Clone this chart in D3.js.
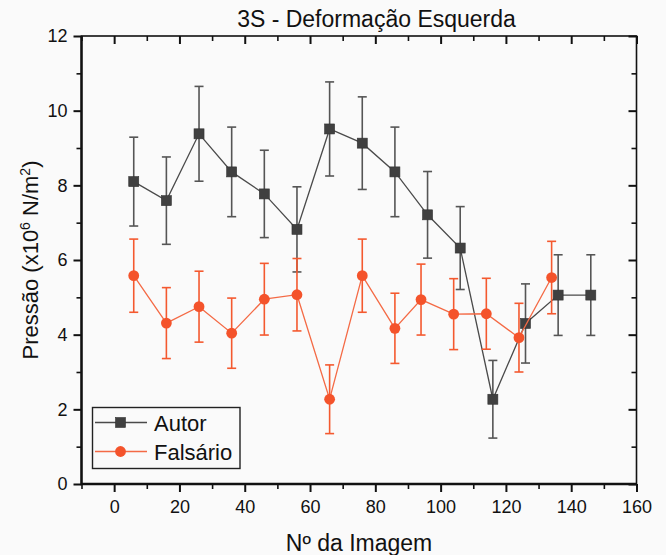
<!DOCTYPE html>
<html>
<head>
<meta charset="utf-8">
<script src="https://cdn.jsdelivr.net/npm/d3@7"></script>
<style>
  html, body { margin: 0; padding: 0; background: #fafafa; }
  text { font-family: Arial, "Liberation Sans", sans-serif; fill: #111; }
  .axis path, .axis line { stroke: #111; }
</style>
</head>
<body>
<div id="chart"></div>
<script>
const width = 666;
const height = 555;

//-----------------------------DATA-----------------------------//
const autorX = [6, 16, 26, 36, 46, 56, 66, 76, 86, 96, 106, 116, 126, 136, 146];
const autorY = [8.10, 7.59, 9.38, 8.36, 7.77, 6.82, 9.51, 9.13, 8.36, 7.21, 6.32, 2.27, 4.30, 5.06, 5.06];
const autorErr = [1.19, 1.17, 1.27, 1.20, 1.17, 1.14, 1.26, 1.24, 1.20, 1.16, 1.11, 1.04, 1.06, 1.08, 1.08];

const falsX = [6, 16, 26, 36, 46, 56, 66, 76, 86, 94, 104, 114, 124, 134];
const falsY = [5.58, 4.31, 4.75, 4.04, 4.95, 5.07, 2.27, 5.58, 4.17, 4.94, 4.55, 4.56, 3.92, 5.53];
const falsErr = [0.98, 0.95, 0.95, 0.94, 0.96, 0.97, 0.92, 0.98, 0.94, 0.95, 0.95, 0.95, 0.92, 0.97];

const xTicks = [0, 20, 40, 60, 80, 100, 120, 140, 160];
const xMinor = [-10, 10, 30, 50, 70, 90, 110, 130, 150];
const yTicks = [0, 2, 4, 6, 8, 10, 12];
const yMinor = [1, 3, 5, 7, 9, 11];

const series = [
    {name: "Autor", xs: autorX, ys: autorY, err: autorErr, color: "#404040", bar: "#555555", line: "#4a4a4a", shape: "square"},
    {name: "Falsário", xs: falsX, ys: falsY, err: falsErr, color: "#f4532b", bar: "#f4592f", line: "#f46a45", shape: "circle"}
];

//----------------------------SCALES----------------------------//
const xScale = d3.scaleLinear().domain([-10, 160]).range([81.5, 636.5]);
const yScale = d3.scaleLinear().domain([0, 12]).range([484, 36]);

const svg = d3.select("#chart").append("svg")
    .attr("width", width)
    .attr("height", height);

//-----------------------------AXES-----------------------------//
const x0 = xScale.range()[0], x1 = xScale.range()[1];
const y0 = yScale.range()[0], y1 = yScale.range()[1];

// minor ticks first
svg.append("g").attr("class", "axis")
    .attr("transform", `translate(0,${y0})`)
    .call(d3.axisBottom(xScale).tickValues(xMinor).tickSize(5).tickFormat("").tickSizeOuter(0))
    .call(g => g.select(".domain").remove())
    .selectAll("line").attr("stroke-width", 1.6);
svg.append("g").attr("class", "axis")
    .attr("transform", `translate(0,${y1})`)
    .call(d3.axisBottom(xScale).tickValues(xMinor).tickSize(5).tickFormat("").tickSizeOuter(0))
    .call(g => g.select(".domain").remove())
    .selectAll("line").attr("stroke-width", 1.6);
svg.append("g").attr("class", "axis")
    .attr("transform", `translate(${x0},0)`)
    .call(d3.axisLeft(yScale).tickValues(yMinor).tickSize(5).tickFormat("").tickSizeOuter(0))
    .call(g => g.select(".domain").remove())
    .selectAll("line").attr("stroke-width", 1.6);
svg.append("g").attr("class", "axis")
    .attr("transform", `translate(${x1},0)`)
    .call(d3.axisLeft(yScale).tickValues(yMinor).tickSize(5).tickFormat("").tickSizeOuter(0))
    .call(g => g.select(".domain").remove())
    .selectAll("line").attr("stroke-width", 1.6);

// major ticks
const xAxis = svg.append("g").attr("class", "axis")
    .attr("transform", `translate(0,${y0})`)
    .call(d3.axisBottom(xScale).tickValues(xTicks).tickSize(8).tickPadding(8).tickSizeOuter(0));
xAxis.select(".domain").remove();
xAxis.selectAll("line").attr("stroke-width", 2);
xAxis.selectAll("text").style("font-size", "18px").attr("fill", "#111");

svg.append("g").attr("class", "axis")
    .attr("transform", `translate(0,${y1})`)
    .call(d3.axisBottom(xScale).tickValues(xTicks).tickSize(8).tickFormat("").tickSizeOuter(0))
    .call(g => g.select(".domain").remove())
    .selectAll("line").attr("stroke-width", 2);

const yAxis = svg.append("g").attr("class", "axis")
    .attr("transform", `translate(${x0},0)`)
    .call(d3.axisLeft(yScale).tickValues(yTicks).tickSize(8).tickPadding(6).tickSizeOuter(0));
yAxis.select(".domain").remove();
yAxis.selectAll("line").attr("stroke-width", 2);
yAxis.selectAll("text").style("font-size", "18px").attr("fill", "#111");

svg.append("g").attr("class", "axis")
    .attr("transform", `translate(${x1},0)`)
    .call(d3.axisLeft(yScale).tickValues(yTicks).tickSize(8).tickFormat("").tickSizeOuter(0))
    .call(g => g.select(".domain").remove())
    .selectAll("line").attr("stroke-width", 2);

// frame
svg.append("rect")
    .attr("x", x0).attr("y", y1)
    .attr("width", x1 - x0).attr("height", y0 - y1)
    .attr("fill", "none").attr("stroke", "#111").attr("stroke-width", 1.6);
svg.append("path")
    .attr("d", `M${x0},${y1}V${y0}H${x1}`)
    .attr("fill", "none").attr("stroke", "#111").attr("stroke-width", 2.4);

//----------------------------LINES-----------------------------//
const line = d3.line()
    .x(d => xScale(d.x))
    .y(d => yScale(d.y));

series.forEach(s => {
    const pts = s.xs.map((x, i) => ({x: x, y: s.ys[i], e: s.err[i]}));
    const g = svg.append("g");

    // error bars
    const bars = g.selectAll(".err").data(pts).join("g");
    bars.append("line")
        .attr("x1", d => xScale(d.x)).attr("x2", d => xScale(d.x))
        .attr("y1", d => yScale(d.y - d.e)).attr("y2", d => yScale(d.y + d.e))
        .attr("stroke", s.bar).attr("stroke-width", 1.6);
    [-1, 1].forEach(k => {
        bars.append("line")
            .attr("x1", d => xScale(d.x) - 4.5).attr("x2", d => xScale(d.x) + 4.5)
            .attr("y1", d => yScale(d.y + k * d.e)).attr("y2", d => yScale(d.y + k * d.e))
            .attr("stroke", s.bar).attr("stroke-width", 1.6);
    });

    g.append("path")
        .attr("d", line(pts))
        .attr("fill", "none")
        .attr("stroke", s.line)
        .attr("stroke-width", 1.3);

    if (s.shape === "square") {
        g.selectAll(".pt").data(pts).join("rect")
            .attr("x", d => xScale(d.x) - 5).attr("y", d => yScale(d.y) - 5)
            .attr("width", 10).attr("height", 10)
            .attr("fill", s.color).attr("stroke", "#333").attr("stroke-width", 0.6);
    } else {
        g.selectAll(".pt").data(pts).join("circle")
            .attr("cx", d => xScale(d.x)).attr("cy", d => yScale(d.y))
            .attr("r", 5.4)
            .attr("fill", s.color);
    }
});

//----------------------------LEGEND----------------------------//
const legend = svg.append("g");
legend.append("rect")
    .attr("x", 92.5).attr("y", 407.5)
    .attr("width", 147.5).attr("height", 61)
    .attr("fill", "#fafafa").attr("stroke", "#222").attr("stroke-width", 1.4);

series.forEach((s, i) => {
    const ly = 422.5 + i * 29;
    legend.append("line")
        .attr("x1", 95).attr("x2", 147).attr("y1", ly).attr("y2", ly)
        .attr("stroke", s.line).attr("stroke-width", 1.3);
    if (s.shape === "square") {
        legend.append("rect")
            .attr("x", 115.5).attr("y", ly - 5).attr("width", 10).attr("height", 10)
            .attr("fill", s.color).attr("stroke", "#333").attr("stroke-width", 0.6);
    } else {
        legend.append("circle")
            .attr("cx", 120.5).attr("cy", ly).attr("r", 5.4).attr("fill", s.color);
    }
    legend.append("text")
        .attr("x", 154).attr("y", ly + 8)
        .style("font-size", "22px")
        .text(s.name);
});

//----------------------------TITLES----------------------------//
svg.append("text")
    .attr("x", 376.5).attr("y", 27)
    .attr("text-anchor", "middle")
    .style("font-size", "23px")
    .text("3S - Deformação Esquerda");

svg.append("text")
    .attr("x", (x0 + x1) / 2).attr("y", 551)
    .attr("text-anchor", "middle")
    .style("font-size", "23px")
    .text("Nº da Imagem");

const yLab = svg.append("text")
    .attr("transform", "translate(38,260) rotate(-90)")
    .attr("text-anchor", "middle")
    .style("font-size", "22px");
yLab.append("tspan").text("Pressão (x10");
yLab.append("tspan").attr("dy", -8).style("font-size", "14px").text("6");
yLab.append("tspan").attr("dy", 8).text(" N/m");
yLab.append("tspan").attr("dy", -8).style("font-size", "14px").text("2");
yLab.append("tspan").attr("dy", 8).text(")");
</script>
</body>
</html>
